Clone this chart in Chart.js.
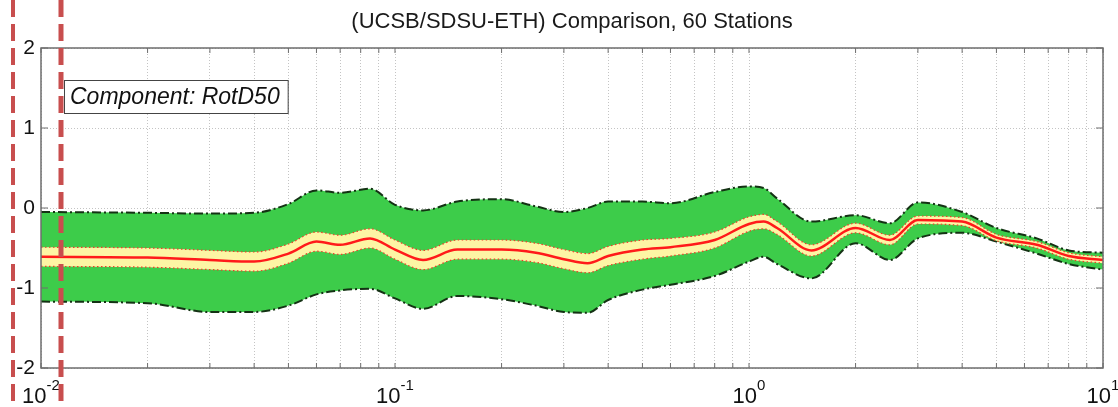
<!DOCTYPE html>
<html>
<head>
<meta charset="utf-8">
<script src="https://cdn.jsdelivr.net/npm/chart.js@4/dist/chart.umd.min.js"></script>
<style>
  html, body { margin: 0; padding: 0; background: #fff; }
  #wrap { width: 1118px; height: 407px; position: relative; }
</style>
</head>
<body>
<div id="wrap"><canvas id="myChart" width="1118" height="407"></canvas></div>
<script>
// periods (s)
var Periods = [0.01, 0.02, 0.03, 0.04, 0.05, 0.06, 0.07, 0.085, 0.1, 0.12, 0.15, 0.2, 0.25, 0.3, 0.35, 0.4, 0.5, 0.6, 0.8, 1.0, 1.1, 1.2, 1.5, 2.0, 2.5, 3.0, 4.0, 5.0, 6.5, 8.0, 10.0];
// mean bias
var MeanBias = [-0.61, -0.62, -0.65, -0.67, -0.57, -0.42, -0.46, -0.38, -0.52, -0.65, -0.52, -0.52, -0.56, -0.64, -0.69, -0.60, -0.52, -0.49, -0.40, -0.20, -0.17, -0.25, -0.53, -0.25, -0.40, -0.15, -0.17, -0.37, -0.46, -0.60, -0.65];
// confidence interval of the mean (yellow)
var CiUpper = [-0.49, -0.50, -0.53, -0.55, -0.45, -0.30, -0.34, -0.26, -0.40, -0.53, -0.40, -0.40, -0.44, -0.52, -0.57, -0.48, -0.40, -0.38, -0.30, -0.11, -0.08, -0.17, -0.46, -0.19, -0.34, -0.10, -0.12, -0.33, -0.42, -0.56, -0.61];
var CiLower = [-0.73, -0.74, -0.77, -0.79, -0.69, -0.54, -0.58, -0.50, -0.64, -0.77, -0.64, -0.64, -0.68, -0.76, -0.81, -0.72, -0.64, -0.60, -0.50, -0.29, -0.26, -0.33, -0.60, -0.31, -0.46, -0.20, -0.22, -0.41, -0.50, -0.64, -0.69];
// +/- one standard deviation (green)
var SdUpper = [-0.05, -0.06, -0.07, -0.06, 0.05, 0.22, 0.19, 0.24, 0.04, -0.03, 0.08, 0.11, 0.02, -0.05, 0.00, 0.08, 0.08, 0.06, 0.20, 0.27, 0.25, 0.12, -0.17, -0.09, -0.19, 0.07, -0.05, -0.25, -0.38, -0.53, -0.56];
var SdLower = [-1.17, -1.19, -1.30, -1.30, -1.22, -1.08, -1.03, -1.01, -1.13, -1.26, -1.10, -1.14, -1.22, -1.30, -1.31, -1.15, -1.02, -0.96, -0.85, -0.67, -0.61, -0.70, -0.88, -0.44, -0.65, -0.38, -0.31, -0.42, -0.57, -0.70, -0.77];
var YTicks = [-2, -1, 0, 1, 2];
var XDecades = [-2, -1, 0, 1];

function pts(vals) {
    return Periods.map((p, i) => ({ x: p, y: vals[i] }));
}

var edgeGreen = '#143214';
var fontName = "'Liberation Sans', Arial, sans-serif";

// matlab-ish axes: box, inward ticks, tick labels, annotation box, red guide lines
var axesPlugin = {
    id: 'matlabAxes',
    afterDraw(chart) {
        var ctx = chart.ctx;
        var a = chart.chartArea;
        var xs = chart.scales.x, ys = chart.scales.y;
        ctx.save();
        // box
        ctx.strokeStyle = '#6e6e6e';
        ctx.lineWidth = 1.5;
        ctx.strokeRect(a.left, a.top, a.right - a.left, a.bottom - a.top);
        // inward ticks
        ctx.lineWidth = 1;
        ctx.beginPath();
        xs.ticks.forEach(t => {
            var px = xs.getPixelForValue(t.value);
            ctx.moveTo(px, a.bottom); ctx.lineTo(px, a.bottom - 5);
            ctx.moveTo(px, a.top); ctx.lineTo(px, a.top + 5);
        });
        YTicks.forEach(v => {
            var py = ys.getPixelForValue(v);
            ctx.moveTo(a.left, py); ctx.lineTo(a.left + 7, py);
            ctx.moveTo(a.right, py); ctx.lineTo(a.right - 7, py);
        });
        ctx.stroke();
        // y labels
        ctx.fillStyle = '#111';
        ctx.font = '21px ' + fontName;
        ctx.textAlign = 'right';
        ctx.textBaseline = 'middle';
        YTicks.forEach(v => {
            ctx.fillText(String(v), a.left - 6, ys.getPixelForValue(v));
        });
        // x labels 10^n
        ctx.textBaseline = 'alphabetic';
        XDecades.forEach(d => {
            var px = xs.getPixelForValue(Math.pow(10, d));
            ctx.font = '22px ' + fontName;
            var wb = ctx.measureText('10').width;
            ctx.font = '15px ' + fontName;
            var sup = String(d);
            var ws = ctx.measureText(sup).width;
            var x0 = px - (wb + ws) / 2;
            ctx.textAlign = 'left';
            ctx.font = '22px ' + fontName;
            ctx.fillText('10', x0, a.bottom + 35);
            ctx.font = '15px ' + fontName;
            ctx.fillText(sup, x0 + wb, a.bottom + 22);
        });
        // component box
        var bx = a.left + 23, by = a.top + 32;
        ctx.font = 'italic 23px ' + fontName;
        var label = 'Component: RotD50';
        var tw = ctx.measureText(label).width;
        ctx.fillStyle = '#fff';
        ctx.fillRect(bx, by, tw + 14, 33);
        ctx.strokeStyle = '#444';
        ctx.lineWidth = 1;
        ctx.strokeRect(bx + 0.5, by + 0.5, tw + 14, 33);
        ctx.fillStyle = '#111';
        ctx.textBaseline = 'middle';
        ctx.fillText(label, bx + 6, by + 18);
        // red dashed guide lines over the page
        ctx.strokeStyle = 'rgb(200, 78, 78)';
        ctx.setLineDash([17, 7]);
        ctx.lineWidth = 4;
        ctx.beginPath();
        ctx.moveTo(13, 0); ctx.lineTo(13, chart.height);
        ctx.stroke();
        ctx.lineWidth = 5;
        ctx.beginPath();
        ctx.moveTo(61, 0); ctx.lineTo(61, chart.height);
        ctx.stroke();
        ctx.restore();
    }
};

var ctx = document.getElementById('myChart').getContext('2d');
var myChart = new Chart(ctx, {
    type: 'line',
    data: {
        datasets: [{
            label: 'Mean',
            data: pts(MeanBias),
            borderColor: '#ff1a1a',
            borderWidth: 2.5,
            pointRadius: 0,
            fill: false
        }, {
            label: 'CI upper',
            data: pts(CiUpper),
            borderColor: '#f03c2a',
            borderWidth: 1.2,
            borderDash: [1.5, 2.5],
            pointRadius: 0,
            fill: false
        }, {
            label: 'CI lower',
            data: pts(CiLower),
            borderColor: '#f03c2a',
            borderWidth: 1.2,
            borderDash: [1.5, 2.5],
            pointRadius: 0,
            fill: '-1',
            backgroundColor: '#fdf5a4'
        }, {
            label: 'SD upper',
            data: pts(SdUpper),
            borderColor: edgeGreen,
            borderWidth: 2,
            borderDash: [9, 3, 2, 3],
            pointRadius: 0,
            fill: false
        }, {
            label: 'SD lower',
            data: pts(SdLower),
            borderColor: edgeGreen,
            borderWidth: 2,
            borderDash: [9, 3, 2, 3],
            pointRadius: 0,
            fill: '-1',
            backgroundColor: '#3dcc4a'
        }]
    },
    options: {
        responsive: false,
        animation: false,
        maintainAspectRatio: false,
        layout: { padding: { left: 41, right: 15, bottom: 39, top: 0 } },
        elements: { line: { tension: 0.25, cubicInterpolationMode: 'monotone' } },
        plugins: {
            legend: { display: false },
            tooltip: { enabled: false },
            title: {
                display: true,
                text: '(UCSB/SDSU-ETH) Comparison, 60 Stations',
                color: '#1a1a1a',
                font: { family: fontName, size: 22, weight: 'normal', lineHeight: 1.2 },
                padding: { top: 9, bottom: 12.6 }
            }
        },
        scales: {
            x: {
                type: 'logarithmic',
                min: 0.01,
                max: 10,
                afterBuildTicks(scale) {
                    var t = [];
                    XDecades.forEach(d => {
                        for (var m = 1; m <= 9; m++) {
                            var v = m * Math.pow(10, d);
                            if (v <= 10.0001) t.push({ value: v });
                        }
                    });
                    scale.ticks = t;
                },
                ticks: { display: false, autoSkip: false },
                border: { display: false, dash: [1, 2] },
                grid: { color: '#c4c4c4', lineWidth: 1, drawTicks: false }
            },
            y: {
                min: -2,
                max: 2,
                afterBuildTicks(scale) {
                    scale.ticks = YTicks.map(v => ({ value: v }));
                },
                ticks: { display: false },
                border: { display: false, dash: [1, 2] },
                grid: { color: '#c4c4c4', lineWidth: 1, drawTicks: false }
            }
        }
    },
    plugins: [axesPlugin]
});
</script>
</body>
</html>
